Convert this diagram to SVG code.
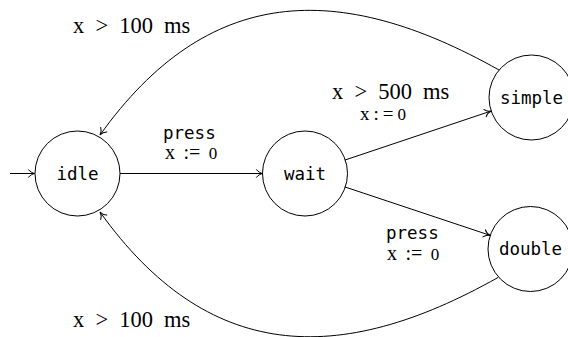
<svg xmlns="http://www.w3.org/2000/svg" width="568" height="337" viewBox="0 0 568 337">
<style>
.st{fill:none;stroke:#000;stroke-width:1}
.e{fill:none;stroke:#000;stroke-width:1}
.m{font-family:"DejaVu Sans Mono",monospace;font-size:17.5px;fill:#000}
.s{font-family:"Liberation Serif",serif;font-size:22.5px;fill:#000;word-spacing:5.5px}
.a{font-family:"Liberation Serif",serif;font-size:20px;fill:#000;word-spacing:3.5px}
.z{font-size:17px}
</style>
<defs>
<marker id="arr" viewBox="-8 -5 10 10" refX="0" refY="0" markerWidth="10" markerHeight="10" markerUnits="userSpaceOnUse" orient="auto">
<path d="M-6.5,-3.8 C-5,-1.6 -2.2,-0.3 0,0 C-2.2,0.3 -5,1.6 -6.5,3.8" fill="none" stroke="#000" stroke-width="1" stroke-linecap="round"/>
</marker>
</defs>
<g id="connectors">
<path class="e" d="M10,173.5 L35,173.5" marker-end="url(#arr)"/>
<path class="e" d="M120,173.5 L263,173.5" marker-end="url(#arr)"/>
<path class="e" d="M344.8,160.1 L491.2,111" marker-end="url(#arr)"/>
<path class="e" d="M344.8,186.9 L490.3,235.4" marker-end="url(#arr)"/>
<path class="e" d="M499,70 C338,-20.6 207.3,-14.9 100,135" marker-end="url(#arr)"/>
<path class="e" d="M498,277.5 C338,367.6 207.3,361.9 100,212" marker-end="url(#arr)"/>
<text class="s" x="73" y="33">x &gt; 100 ms</text>
<text class="s" x="73" y="326.5">x &gt; 100 ms</text>
<text class="s" x="332" y="98.5">x &gt; 500 ms</text>
<text class="a" x="360" y="120" style="letter-spacing:4px;font-size:19px">x:=<tspan class="z">0</tspan></text>
<text class="m" x="163" y="138.5">press</text>
<text class="a" x="165" y="158.5">x := <tspan class="z">0</tspan></text>
<text class="m" x="386" y="239">press</text>
<text class="a" x="387" y="260">x := <tspan class="z">0</tspan></text>
</g>
<g id="idle"><circle class="st" cx="77.5" cy="173.5" r="42.5"/><text class="m" x="77.5" y="180" text-anchor="middle">idle</text></g>
<g id="wait"><circle class="st" cx="305" cy="173.5" r="42.5"/><text class="m" x="305" y="180" text-anchor="middle">wait</text></g>
<g id="simple"><circle class="st" cx="531.5" cy="97.5" r="42.5"/><text class="m" x="531.5" y="103.5" text-anchor="middle">simple</text></g>
<g id="double"><circle class="st" cx="530.5" cy="249" r="42.5"/><text class="m" x="530.5" y="255" text-anchor="middle">double</text></g>
</svg>
